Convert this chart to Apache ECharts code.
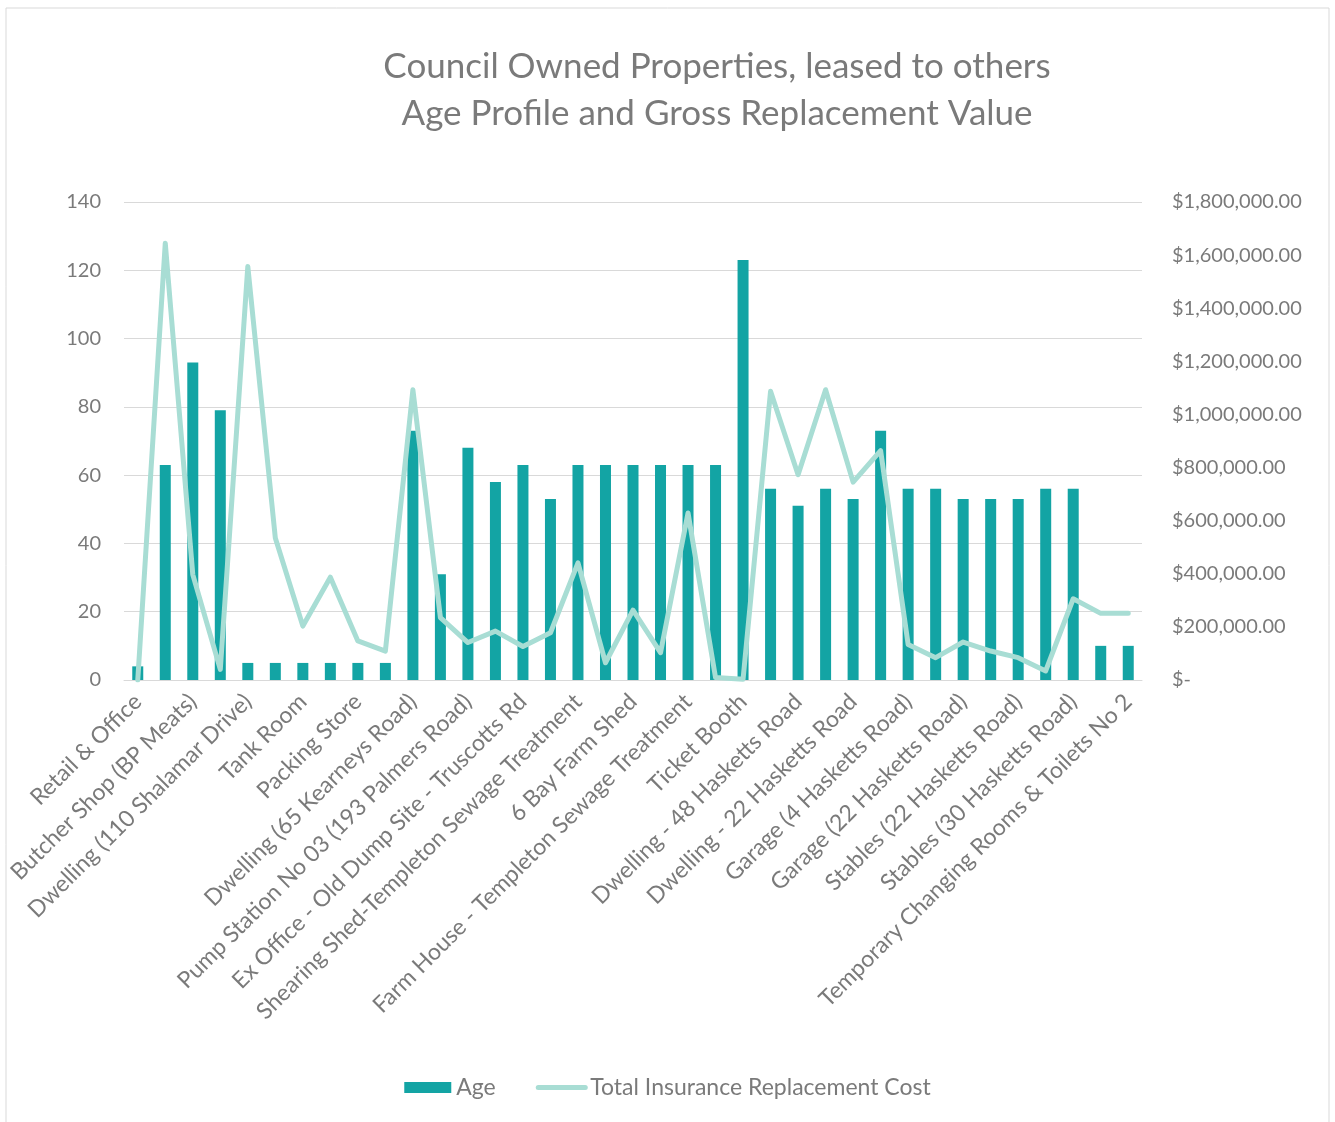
<!DOCTYPE html>
<html>
<head>
<meta charset="utf-8">
<script src="https://cdn.jsdelivr.net/npm/echarts@6/dist/echarts.min.js"></script>
<style>
  html, body { margin: 0; padding: 0; background: #fff; }
  #chart { width: 1335px; height: 1122px; }
</style>
</head>
<body>
<div id="chart"></div>
<script>
// property names (every other one is shown on the axis)
var properties = [
  'Retail & Office', 'Shop & Storage', 'Butcher Shop (BP Meats)', 'Residence (BP Meats)',
  'Dwelling (110 Shalamar Drive)', 'Garage (110 Shalamar Drive)', 'Tank Room', 'Pump Shed',
  'Packing Store', 'Storage Shed', 'Dwelling (65 Kearneys Road)', 'Pump Station No 02',
  'Pump Station No 03 (193 Palmers Road)', 'Workshop - Old Dump Site',
  'Ex Office - Old Dump Site - Truscotts Rd', 'Implement Shed-Templeton Sewage Treatment',
  'Shearing Shed-Templeton Sewage Treatment', 'Hay Barn', '6 Bay Farm Shed',
  'Garage - Templeton Sewage Treatment', 'Farm House - Templeton Sewage Treatment', 'Gate House',
  'Ticket Booth', 'Dwelling - 30 Hasketts Road', 'Dwelling - 48 Hasketts Road',
  'Dwelling - 4 Hasketts Road', 'Dwelling - 22 Hasketts Road', 'Implement Shed (4 Hasketts Road)',
  'Garage (4 Hasketts Road)', 'Workshop (22 Hasketts Road)', 'Garage (22 Hasketts Road)',
  'Hay Shed (22 Hasketts Road)', 'Stables (22 Hasketts Road)', 'Garage (30 Hasketts Road)',
  'Stables (30 Hasketts Road)', 'Temporary Changing Rooms & Toilets No 1',
  'Temporary Changing Rooms & Toilets No 2'
]

var age = [4, 63, 93, 79, 5, 5, 5, 5, 5, 5, 73, 31, 68, 58, 63, 53, 63, 63, 63, 63, 63, 63, 123,
  56, 51, 56, 53, 73, 56, 56, 53, 53, 53, 56, 56, 10, 10]

var replacementCost = [0, 1645000, 397000, 40000, 1557000, 535000, 203000, 387000, 147000, 109000,
  1093000, 235000, 141000, 184000, 126000, 178000, 441000, 65000, 263000, 103000, 629000, 9000,
  3000, 1087000, 773000, 1093000, 745000, 864000, 134000, 84000, 143000, 109000, 84000, 34000,
  306000, 251000, 251000]

var titleLines = ['Council Owned Properties, leased to others', 'Age Profile and Gross Replacement Value']

var FONT = 'Lato'
var TEXT = '#7a7a7a'
var BAR = '#13a4a4'
var LINE = '#a8ddd4'

function money(v) {
  if (v === 0) return '$-'
  return '$' + v.toFixed(2).replace(/\B(?=(\d{3})+(?!\d))/g, ',')
}

var chart = echarts.init(document.getElementById('chart'))
chart.setOption({
  animation: false,
  textStyle: { fontFamily: FONT },
  graphic: [{
    type: 'rect',
    shape: { x: 6, y: 8, width: 1323, height: 1120 },
    style: { fill: 'none', stroke: '#d9d9d9', lineWidth: 1 },
    silent: true
  }],
  title: {
    text: titleLines.join('\n'),
    left: 712,
    top: 38,
    textAlign: 'center',
    textStyle: { color: TEXT, fontSize: 35, fontWeight: 'normal', lineHeight: 47, fontFamily: FONT }
  },
  legend: {
    bottom: 18,
    left: 'center',
    itemWidth: 47,
    itemHeight: 11,
    itemGap: 40,
    textStyle: { color: TEXT, fontSize: 23, fontFamily: FONT },
    data: [
      { name: 'Age', icon: 'rect' },
      {
        name: 'Total Insurance Replacement Cost',
        itemStyle: { opacity: 0 },
        lineStyle: { width: 5, color: LINE, cap: 'round' }
      }
    ]
  },
  grid: { left: 124, right: 193, top: 202, bottom: 442 },
  xAxis: {
    type: 'category',
    data: properties,
    axisTick: { show: false },
    axisLine: { lineStyle: { color: '#d9d9d9', width: 1 } },
    axisLabel: {
      interval: 1,
      rotate: 45,
      margin: 18,
      color: TEXT,
      fontSize: 23,
      fontFamily: FONT
    }
  },
  yAxis: [
    {
      type: 'value',
      min: 0,
      max: 140,
      interval: 20,
      axisLine: { show: false },
      axisTick: { show: false },
      axisLabel: { color: TEXT, fontSize: 20, margin: 23, fontFamily: FONT },
      splitLine: { lineStyle: { color: '#d9d9d9', width: 1 } }
    },
    {
      type: 'value',
      min: 0,
      max: 1800000,
      interval: 200000,
      axisLine: { show: false },
      axisTick: { show: false },
      splitLine: { show: false },
      axisLabel: { color: TEXT, fontSize: 20, margin: 30, fontFamily: FONT, formatter: money }
    }
  ],
  series: [
    {
      name: 'Age',
      type: 'bar',
      data: age,
      barWidth: 11,
      itemStyle: { color: BAR }
    },
    {
      name: 'Total Insurance Replacement Cost',
      type: 'line',
      yAxisIndex: 1,
      data: replacementCost,
      symbol: 'none',
      lineStyle: { color: LINE, width: 5, cap: 'round', join: 'round' },
      itemStyle: { color: LINE }
    }
  ]
})
</script>
</body>
</html>
